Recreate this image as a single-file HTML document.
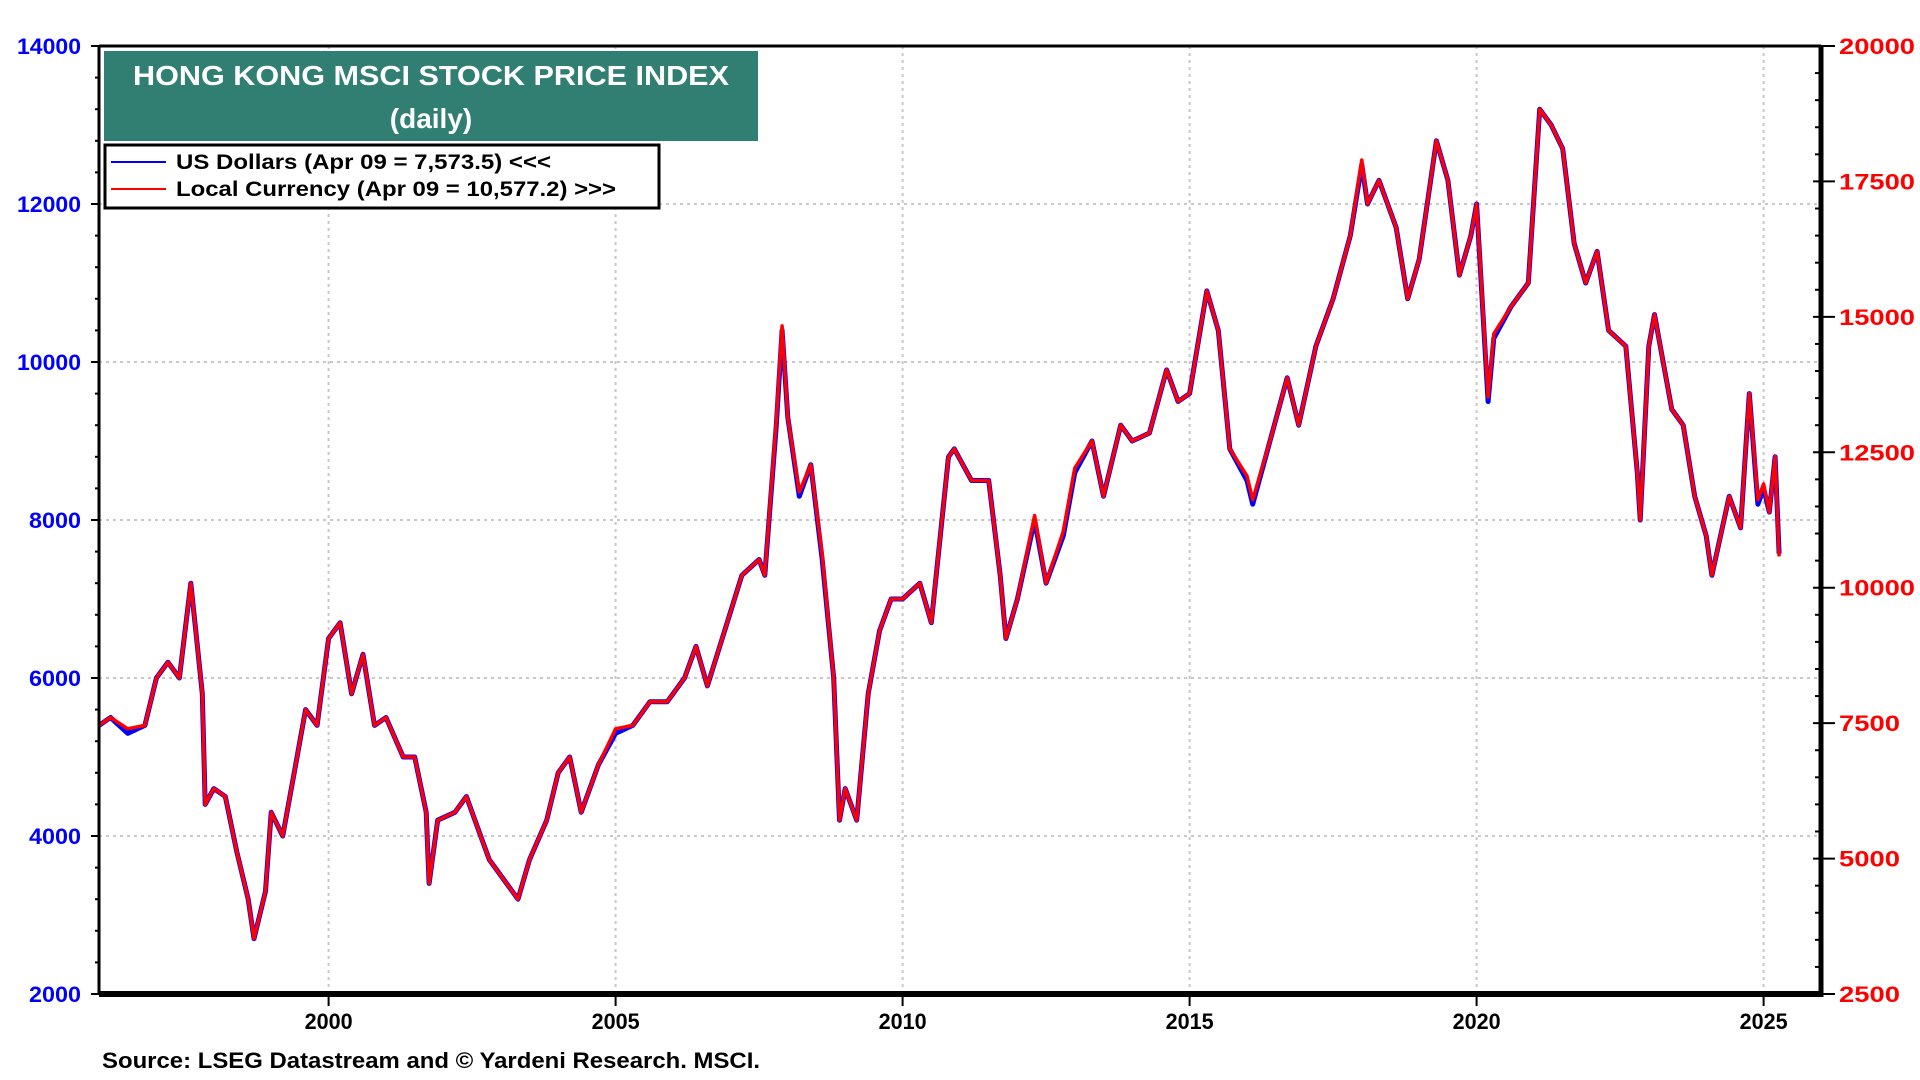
<!DOCTYPE html>
<html><head><meta charset="utf-8"><style>
html,body{margin:0;padding:0;background:#fff;}
svg{display:block;font-family:"Liberation Sans",Arial,sans-serif;font-weight:bold;}
</style></head><body>
<svg id="chart" width="1920" height="1080" viewBox="0 0 1920 1080" xmlns="http://www.w3.org/2000/svg">
<rect width="1920" height="1080" fill="#fff"/>
<g id="grid"></g>
<g id="ticks"></g>
<g id="series"></g>
<g id="frame"></g>
<g id="labels"></g>
<g>
<rect x="104" y="51" width="654" height="90" fill="#317F73"/>
<text x="431" y="85" text-anchor="middle" fill="#fff" font-size="28" textLength="596" lengthAdjust="spacingAndGlyphs">HONG KONG MSCI STOCK PRICE INDEX</text>
<text x="431" y="128" text-anchor="middle" fill="#fff" font-size="28">(daily)</text>
</g>
<g>
<rect x="105" y="145" width="554" height="63" fill="#fff" stroke="#000" stroke-width="3"/>
<line x1="111" y1="162" x2="166" y2="162" stroke="#0000ff" stroke-width="2"/>
<text x="176" y="169" font-size="21" textLength="375" lengthAdjust="spacingAndGlyphs">US Dollars (Apr 09 = 7,573.5) &lt;&lt;&lt;</text>
<line x1="111" y1="189" x2="166" y2="189" stroke="#ff0000" stroke-width="2"/>
<text x="176" y="196" font-size="21" textLength="440" lengthAdjust="spacingAndGlyphs">Local Currency (Apr 09 = 10,577.2) &gt;&gt;&gt;</text>
</g>
<text x="102" y="1068" font-size="22" textLength="658" lengthAdjust="spacingAndGlyphs">Source: LSEG Datastream and © Yardeni Research. MSCI.</text>
</svg>
<script>
const dates=[1996.0,1996.2,1996.5,1996.8,1997.0,1997.2,1997.4,1997.6,1997.7,1997.8,1997.85,1998.0,1998.2,1998.4,1998.6,1998.7,1998.9,1999.0,1999.2,1999.4,1999.6,1999.8,2000.0,2000.2,2000.4,2000.6,2000.8,2001.0,2001.3,2001.5,2001.7,2001.75,2001.9,2002.2,2002.4,2002.6,2002.8,2003.0,2003.3,2003.5,2003.8,2004.0,2004.2,2004.4,2004.7,2005.0,2005.3,2005.6,2005.9,2006.2,2006.4,2006.6,2006.9,2007.2,2007.5,2007.6,2007.8,2007.9,2008.0,2008.2,2008.4,2008.6,2008.8,2008.9,2009.0,2009.2,2009.4,2009.6,2009.8,2010.0,2010.3,2010.5,2010.8,2010.9,2011.2,2011.5,2011.7,2011.8,2012.0,2012.3,2012.5,2012.8,2013.0,2013.3,2013.5,2013.8,2014.0,2014.3,2014.6,2014.8,2015.0,2015.3,2015.5,2015.7,2016.0,2016.1,2016.4,2016.7,2016.9,2017.2,2017.5,2017.8,2018.0,2018.1,2018.3,2018.6,2018.8,2019.0,2019.3,2019.5,2019.7,2019.9,2020.0,2020.2,2020.3,2020.6,2020.9,2021.1,2021.3,2021.5,2021.7,2021.9,2022.1,2022.3,2022.6,2022.8,2022.85,2023.0,2023.1,2023.4,2023.6,2023.8,2024.0,2024.1,2024.4,2024.6,2024.75,2024.9,2025.0,2025.1,2025.2,2025.27];
const usdValues=[5400,5500,5300,5400,6000,6200,6000,7200,6500,5800,4400,4600,4500,3800,3200,2700,3300,4300,4000,4800,5600,5400,6500,6700,5800,6300,5400,5500,5000,5000,4300,3400,4200,4300,4500,4100,3700,3500,3200,3700,4200,4800,5000,4300,4900,5300,5400,5700,5700,6000,6400,5900,6600,7300,7500,7300,9200,10400,9300,8300,8700,7500,6000,4200,4600,4200,5800,6600,7000,7000,7200,6700,8800,8900,8500,8500,7300,6500,7000,8000,7200,7800,8600,9000,8300,9200,9000,9100,9900,9500,9600,10900,10400,8900,8500,8200,9000,9800,9200,10200,10800,11600,12500,12000,12300,11700,10800,11300,12800,12300,11100,11600,12000,9500,10300,10700,11000,13200,13000,12700,11500,11000,11400,10400,10200,8600,8000,10200,10600,9400,9200,8300,7800,7300,8300,7900,9600,8200,8400,8100,8800,7573.5];
const localValues=[7458,7604,7396,7458,8333,8625,8333,10083,9063,8042,6000,6292,6146,5125,4250,3521,4396,5854,5417,6583,7750,7458,9063,9354,8042,8771,7458,7604,6875,6875,5854,4542,5708,5854,6146,5563,4979,4688,4250,4979,5708,6583,6875,5854,6729,7396,7458,7896,7896,8333,8917,8188,9208,10229,10521,10229,13083,14833,13146,11771,12271,10604,8333,5708,6292,5708,8042,9208,9792,9792,10083,9354,12417,12563,11979,11979,10229,9063,9792,11333,10083,11042,12208,12708,11688,13000,12708,12854,14021,13438,13583,15479,14750,12563,12063,11625,12708,13875,13000,14458,15333,16500,17896,17083,17521,16646,15333,16063,18250,17521,15771,16500,17083,13521,14688,15188,15625,18833,18542,18104,16354,15625,16208,14750,14458,12125,11250,14458,15042,13292,13000,11688,10958,10229,11688,11104,13583,11625,11917,11396,12417,10577.2];
const leftTicks=[2000,4000,6000,8000,10000,12000,14000];
const rightTicks=[2500,5000,7500,10000,12500,15000,17500,20000];
const yearTicks=[2000,2005,2010,2015,2020,2025];

const PL=99,PR=1821,PT=46,PB=994;
const X0=1996,X1=2026;
const xs=t=>PL+(t-X0)/(X1-X0)*(PR-PL);
const yl=v=>PB-(v-2000)/12000*(PB-PT);
const yr=v=>PB-(v-2500)/17500*(PB-PT);
const NS="http://www.w3.org/2000/svg";
function mk(tag,parent,attrs){const e=document.createElementNS(NS,tag);for(const k in attrs)e.setAttribute(k,attrs[k]);document.getElementById(parent).appendChild(e);return e;}

for(const y of yearTicks){
  const g=mk('line','grid',{x1:xs(y),x2:xs(y),y1:PT,y2:PB,stroke:'#c8c8c8','stroke-width':2,'stroke-dasharray':'3,4'});
  
  
}
for(const v of leftTicks.slice(1,-1)){
  const g=mk('line','grid',{x1:PL,x2:PR,y1:yl(v),y2:yl(v),stroke:'#c8c8c8','stroke-width':2,'stroke-dasharray':'3,4'});
  
  
}
for(let v=2000;v<=14000;v+=400){
  const major=leftTicks.includes(v);
  const t=mk('line','ticks',{x1:PL-(major?8:4),x2:PL,y1:yl(v),y2:yl(v),stroke:'#000','stroke-width':2});
  
  
}
for(let v=2500;v<=20000;v+=500){
  const major=rightTicks.includes(v);
  const t=mk('line','ticks',{x1:major?PR-8:PR-6,x2:major?PR+14:PR,y1:yr(v),y2:yr(v),stroke:'#000','stroke-width':2});
  
  
}
for(const y of yearTicks){
  const t=mk('line','ticks',{x1:xs(y),x2:xs(y),y1:PB,y2:PB+12,stroke:'#000','stroke-width':2});
  
  
}
const usdPts=dates.map((d,i)=>xs(d).toFixed(1)+','+yl(usdValues[i]).toFixed(1)).join(' ');
const usdLine=mk('polyline','series',{points:usdPts,fill:'none',stroke:'#0000ff','stroke-width':5,'stroke-linejoin':'round'});


const locPts=dates.map((d,i)=>xs(d).toFixed(1)+','+yr(localValues[i]).toFixed(1)).join(' ');
const locLine=mk('polyline','series',{points:locPts,fill:'none',stroke:'#ff0000','stroke-width':3.5,'stroke-linejoin':'round'});


mk('line','frame',{x1:PL,x2:PR,y1:PT,y2:PT,stroke:'#000','stroke-width':3});
mk('line','frame',{x1:PL,x2:PL,y1:PT,y2:PB,stroke:'#000','stroke-width':3});
mk('line','frame',{x1:PR,x2:PR,y1:PT-1,y2:PB+3,stroke:'#000','stroke-width':5});
mk('line','frame',{x1:PL,x2:PR+2,y1:PB,y2:PB,stroke:'#000','stroke-width':6});
for(const v of leftTicks){
  const t=mk('text','labels',{x:81,y:yl(v)+8,'text-anchor':'end',fill:'#0000ff','font-size':22,textLength:v>=10000?64:52,lengthAdjust:'spacingAndGlyphs'});
  t.textContent=v;
  
  
}
for(const v of rightTicks){
  const t=mk('text','labels',{x:1839,y:yr(v)+8,fill:'#ff0000','font-size':22,textLength:v>=10000?76:61,lengthAdjust:'spacingAndGlyphs'});
  t.textContent=v;
  
  
}
for(const y of yearTicks){
  const t=mk('text','labels',{x:xs(y),y:1029,'text-anchor':'middle',fill:'#000','font-size':22,textLength:48,lengthAdjust:'spacingAndGlyphs'});
  t.textContent=y;
  
  
}
</script>
</body></html>
